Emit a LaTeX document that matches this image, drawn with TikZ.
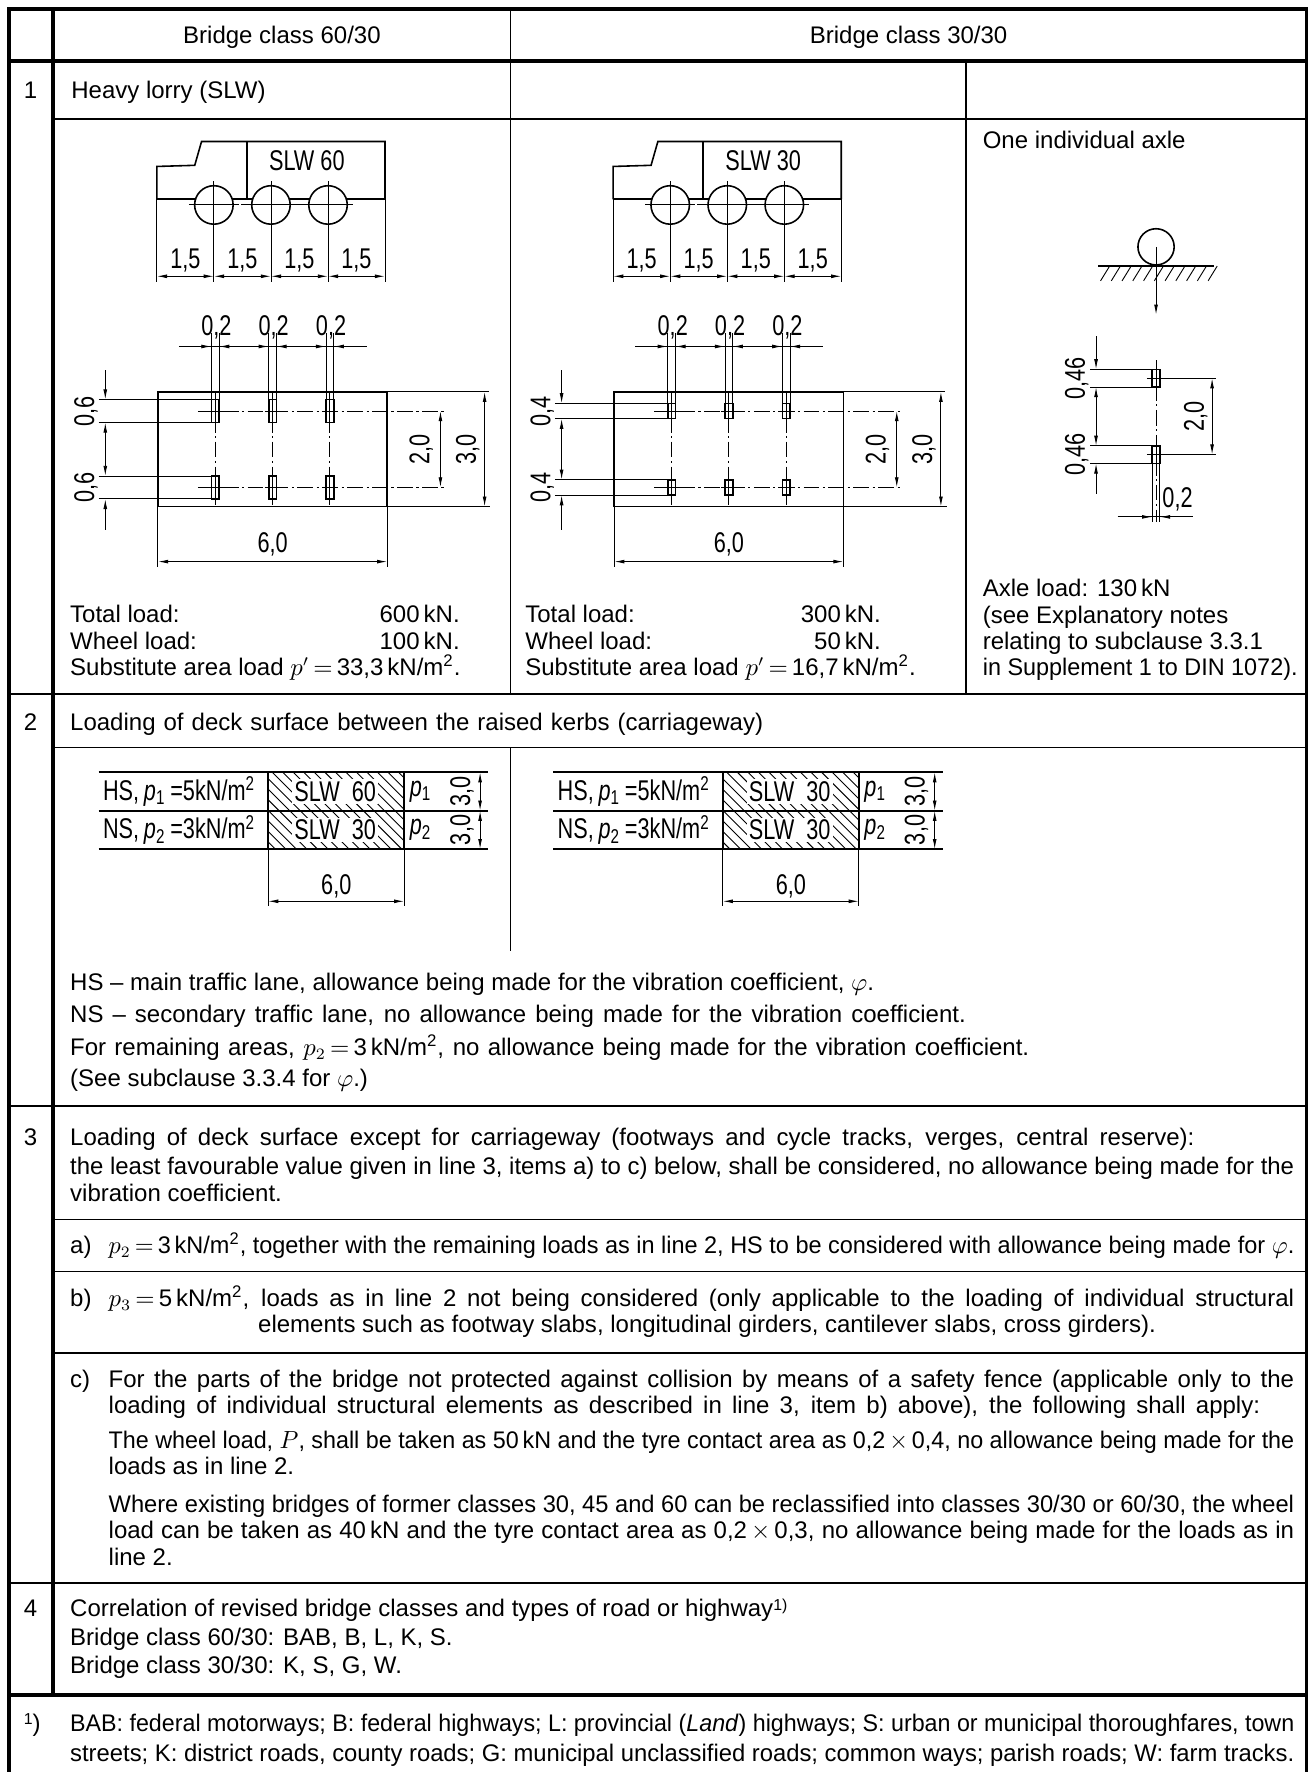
\documentclass[tikz,border=0pt]{standalone}
\usepackage{fontspec}
\setmainfont{Liberation Sans}
\newfontfamily\dimfont[FakeStretch=0.76]{Liberation Sans}
\usepackage{graphicx}
\usetikzlibrary{arrows.meta}
\newcommand\bodyfont{\fontsize{10.6}{12.5}\selectfont}
\newcommand\dimsize{\dimfont\fontsize{12.6}{14}\selectfont}
\newsavebox\jbox
\newcommand\jl[2]{\sbox\jbox{#2}\ifdim\wd\jbox>#1\relax\resizebox{#1}{\height}{\usebox\jbox}\else\hbox to #1{#2}\fi}
\newcommand\kNm{\,kN/m\textsuperscript{2}}
\newcommand\eq{\mkern3mu{=}\mkern3mu}

\newcommand\lorry[2]{%
\begin{scope}[shift={(#1,0)}]
 \draw[med] (138.5,176) -- (138.5,147) -- (172,146) -- (178,125) -- (340,125) -- (340,176);
 \draw[med] (218,125) -- (218,176);
 \draw[med] (138.5,176) -- (340,176);
 \draw[thinl,cline] (169,181) -- (311,181);
 \foreach \w in {188.9,239.3,289.7} {
   \draw[med,fill=white] (\w,181) circle[radius=17];
   \draw[thinl] (\w,160) -- (\w,249);
   \draw[thinl] (\w-22,181) -- (\w+22,181);
 }
 \node[dl] (slw#2) at (271,142) {SLW\ #2};
 \draw[thinl] (138.5,176) -- (138.5,249);
 \draw[thinl] (340,176) -- (340,249);
 \draw[thinl,<->] (138.5,244) -- (188.9,244);
 \draw[thinl,<->] (188.9,244) -- (239.3,244);
 \draw[thinl,<->] (239.3,244) -- (289.7,244);
 \draw[thinl,<->] (289.7,244) -- (340,244);
 \foreach \m in {163.7,214.1,264.5,314.8} \node[dl] at (\m,230) {1,5};
\end{scope}}

\newcommand\planview[3]{%
\begin{scope}[shift={(#1,0)}]
 \draw[med] (139.5,346) rectangle (342,447.5);
 \draw[thinl,cline] (174.7,363) -- (392.5,363);
 \draw[thinl,cline] (174.7,430.5) -- (392.5,430.5);
 \foreach \w in {190.15,240.75,291.35} {
   \draw[thinl] (\w-3.375,294) -- (\w-3.375,363-#2);
   \draw[thinl] (\w+3.375,294) -- (\w+3.375,363-#2);
   \draw[thinl,cline] (\w,346) -- (\w,446);
   \foreach \r in {363,430.5} {
     \draw[med,fill=white] (\w-3.375,\r-#2) rectangle (\w+3.375,\r+#2);
     \draw[thinl] (\w,\r-#2) -- (\w,\r+#2);
     \draw[thinl] (\w-7,\r) -- (\w+7,\r);
   }
   \draw[thinl,->] (\w-3.375-13,306) -- (\w-3.375,306);
   \draw[thinl,->] (\w+3.375+13,306) -- (\w+3.375,306);
   \node[dl] at (\w+1,289) {0,2};
 }
 \draw[thinl] (158,306) -- (324,306);
 % 2,0
 \draw[thinl,<->] (389,363) -- (389,430.5);
 \node[dl,rotate=90] at (372,396.75) {2,0};
 % 3,0
 \draw[thinl] (342,346) -- (432,346);
 \draw[thinl] (342,447.5) -- (433,447.5);
 \draw[thinl,<->] (428,346) -- (428,447.5);
 \node[dl,rotate=90] at (413,396.75) {3,0};
 % left chain
 \foreach \yy in {363-#2,363+#2,430.5-#2,430.5+#2} \draw[thinl] (87,\yy) -- (186.775,\yy);
 \draw[thinl,->] (93,327) -- (93,363-#2);
 \draw[thinl,<->] (93,363+#2) -- (93,430.5-#2);
 \draw[thinl,<-] (93,430.5+#2) -- (93,468);
 \node[dl,rotate=90] at (76,363) {#3};
 \node[dl,rotate=90] at (76,430.5) {#3};
 % 6,0
 \draw[thinl] (139.5,447.5) -- (139.5,501);
 \draw[thinl] (342,447.5) -- (342,501);
 \draw[thinl,<->] (139.5,496) -- (342,496);
 \node[dl] at (240.75,481) {6,0};
\end{scope}}

\newcommand\rowtwo[4]{%
\begin{scope}[shift={(#1,0)}]
 \begin{scope}
  \clip (236.8,682) rectangle (357,750);
  \foreach \k in {0,...,22} \draw[thinl] ({166+\k*9.3},682) -- ++(68,68);
 \end{scope}
 \draw[med] (87,682) -- (431,682);
 \draw[med] (87,716) -- (431,716);
 \draw[med] (87,750) -- (431,750);
 \draw[med] (236.8,682) -- (236.8,750);
 \draw[med] (357,682) -- (357,750);
 \node[dl,anchor=west] at (91,699) {HS,\,\textit{p}\textsubscript{1}\,=5kN/m\textsuperscript{2}};
 \node[dl,anchor=west] at (91,733) {NS,\,\textit{p}\textsubscript{2}\,=3kN/m\textsuperscript{2}};
 \node[dl,fill=white,inner sep=1pt] at (296,699) {SLW\ \ #2};
 \node[dl,fill=white,inner sep=1pt] at (296,733) {SLW\ \ #3};
 \node[dl,anchor=west] at (362,699) {\textit{p}\textsubscript{1}};
 \node[dl,anchor=west] at (362,733) {\textit{p}\textsubscript{2}};
 \node[dl,rotate=90] at (408,699) {3,0};
 \node[dl,rotate=90] at (408,733) {3,0};
 \draw[thinl,<->] (424,682) -- (424,716);
 \draw[thinl,<->] (424,716) -- (424,750);
 \draw[thinl] (236.8,750) -- (236.8,800);
 \draw[thinl] (357,750) -- (357,800);
 \draw[thinl,<->] (236.8,796) -- (357,796);
 \node[dl] at (297,783) {6,0};
\end{scope}}

\begin{document}
\begin{tikzpicture}[x=0.5pt,y=-0.5pt,
  >={Latex[length=4.5pt,width=1.7pt]},
  every node/.style={inner sep=0pt,outer sep=0pt},
  txt/.style={anchor=base west,font=\bodyfont},
  txte/.style={anchor=base east,font=\bodyfont},
  txtc/.style={anchor=base,font=\bodyfont},
  dl/.style={font=\dimsize},
  heavy/.style={line width=1.6pt},
  rowline/.style={line width=1.1pt},
  grid/.style={line width=0.6pt},
  med/.style={line width=0.7pt},
  thinl/.style={line width=0.4pt},
  cline/.style={dash pattern=on 7pt off 1.5pt on 1pt off 1.5pt}]
\useasboundingbox (0,0) rectangle (1157,1565);
\fill[white] (0,0) rectangle (1157,1565);

% ---------- frame ----------
\draw[heavy] (8,1565) -- (8,8) -- (1154,8) -- (1154,1565);
\draw[heavy] (47,8) -- (47,1497);
\draw[heavy] (8,54) -- (1154,54);
\draw[grid] (451,8) -- (451,54);
\draw[grid] (47,105) -- (1154,105);
\draw[grid] (451,54) -- (451,613);
\draw[grid] (853,54) -- (853,613);
\draw[rowline] (8,613) -- (1154,613);
\draw[grid] (47,660) -- (1154,660);
\draw[grid] (451,660) -- (451,840);
\draw[rowline] (8,977) -- (1154,977);
\draw[grid] (47,1077) -- (1154,1077);
\draw[grid] (47,1123) -- (1154,1123);
\draw[grid] (47,1195) -- (1154,1195);
\draw[rowline] (8,1398) -- (1154,1398);
\draw[heavy] (8,1497) -- (1154,1497);

% ---------- header ----------
\node[txtc] (h1) at (249,38) {Bridge class 60/30};
\node[txtc] (h2) at (802.5,38) {Bridge class 30/30};

% ---------- row 1 ----------
\node[txtc] (n1) at (27,87) {1};
\node[txt] (r1t) at (63,87) {Heavy lorry (SLW)};
\node[txt] (axt) at (868,131) {One individual axle};

\lorry{0}{60}
\lorry{403}{30}
\planview{0}{10.125}{0,6}
\planview{403}{6.75}{0,4}

% axle side view
\draw[med] (1021,218) circle[radius=16];
\draw[med] (970,235) -- (1072,235);
\foreach \k in {0,...,10} \draw[thinl] ({980+\k*9.5},235) -- ++(-8,13);
\draw[thinl,->] (1021,218) -- (1021,278);
% axle plan view
\draw[thinl,cline] (1021,318) -- (1021,461);
\foreach \r in {334,401.5} {
  \draw[med,fill=white] (1017.6,\r-7.75) rectangle (1024.4,\r+7.75);
  \draw[thinl] (1021,\r-7.75) -- (1021,\r+7.75);
  \draw[thinl] (1013,\r) -- (1074,\r);
}
\draw[thinl,<->] (1070.5,334) -- (1070.5,401.5);
\node[dl,rotate=90] at (1056,368) {2,0};
\foreach \yy in {326.25,341.75,393.75,409.25} \draw[thinl] (963,\yy) -- (1017.6,\yy);
\draw[thinl,->] (968,297) -- (968,326.25);
\draw[thinl,<->] (968,341.75) -- (968,393.75);
\draw[thinl,<-] (968,409.25) -- (968,436);
\node[dl,rotate=90] at (951,334) {0,46};
\node[dl,rotate=90] at (951,401.5) {0,46};
\draw[thinl] (1017.6,409.25) -- (1017.6,461);
\draw[thinl] (1024.4,409.25) -- (1024.4,461);
\draw[thinl] (987,456.5) -- (1054,456.5);
\draw[thinl,->] (1004,456.5) -- (1017.6,456.5);
\draw[thinl,->] (1038,456.5) -- (1024.4,456.5);
\node[dl] at (1040,441) {0,2};

% row 1 texts
\node[txt] (tl1) at (62,550) {Total load:};
\node[txte] (tv1) at (406,550) {600\,kN.};
\node[txt] (wl1) at (62,574) {Wheel load:};
\node[txte] (wv1) at (406,574) {100\,kN.};
\node[txt] (sa1) at (62,597) {Substitute area load \(p'\eq\)33,3\kNm.};
\node[txt] (tl2) at (464,550) {Total load:};
\node[txte] (tv2) at (778,550) {300\,kN.};
\node[txt] (wl2) at (464,574) {Wheel load:};
\node[txte] (wv2) at (778,574) {50\,kN.};
\node[txt] (sa2) at (464,597) {Substitute area load \(p'\eq\)16,7\kNm.};
\node[txt] (ax1) at (868,527) {Axle load: 130\,kN};
\node[txt] (ax2) at (868,551) {(see Explanatory notes};
\node[txt] (ax3) at (868,574) {relating to subclause 3.3.1};
\node[txt] (ax4) at (868,597) {\jl{139pt}{in Supplement 1 to DIN 1072).}};

% ---------- row 2 ----------
\node[txtc] (n2) at (27,645) {2};
\node[txt] (r2t) at (62,645) {\jl{306pt}{Loading of deck surface between the raised kerbs (carriageway)}};
\rowtwo{0}{60}{30}{}
\rowtwo{401.5}{30}{30}{}
\node[txt] (r2a) at (62,875) {HS -- main traffic lane, allowance being made for the vibration coefficient, \(\varphi\).};
\node[txt] (r2b) at (62,903) {\jl{395.5pt}{NS -- secondary traffic lane, no allowance being made for the vibration coefficient.}};
\node[txt] (r2c) at (62,932) {\jl{423.5pt}{For remaining areas, \(p_2\eq\)3\kNm, no allowance being made for the vibration coefficient.}};
\node[txt] (r2d) at (62,960) {(See subclause 3.3.4 for \(\varphi\).)};

% ---------- row 3 ----------
\node[txtc] (n3) at (27,1012) {3};
\node[txt] (r3a) at (62,1012) {\jl{496.5pt}{Loading of deck surface except for carriageway (footways and cycle tracks, verges, central reserve):}};
\node[txt] (r3b) at (62,1037) {\jl{540.5pt}{the least favourable value given in line 3, items a) to c) below, shall be considered, no allowance being made for the}};
\node[txt] (r3c) at (62,1061) {vibration coefficient.};
\node[txt] (ia) at (62,1107) {a)};
\node[txt] (ia1) at (96,1107) {\jl{523.5pt}{\(p_2\eq\)3\kNm, together with the remaining loads as in line 2, HS to be considered with allowance being made for \(\varphi\).}};
\node[txt] (ib) at (62,1154) {b)};
\node[txt] (ib1) at (96,1154) {\jl{523.5pt}{\(p_3\eq\)5\kNm, loads as in line 2 not being considered (only applicable to the loading of individual structural}};
\node[txt] (ib2) at (228,1177) {elements such as footway slabs, longitudinal girders, cantilever slabs, cross girders).};
\node[txt] (ic) at (62,1225) {c)};
\node[txt] (ic1) at (96,1225) {\jl{523.5pt}{For the parts of the bridge not protected against collision by means of a safety fence (applicable only to the}};
\node[txt] (ic2) at (96,1248) {\jl{508.5pt}{loading of individual structural elements as described in line 3, item b) above), the following shall apply:}};
\node[txt] (ic3) at (96,1279) {\jl{523.5pt}{The wheel load, \(P\), shall be taken as 50\,kN and the tyre contact area as 0,2\,\(\times\)\,0,4, no allowance being made for the}};
\node[txt] (ic4) at (96,1302) {loads as in line 2.};
\node[txt] (ic5) at (96,1336) {\jl{523.5pt}{Where existing bridges of former classes 30, 45 and 60 can be reclassified into classes 30/30 or 60/30, the wheel}};
\node[txt] (ic6) at (96,1359) {\jl{523.5pt}{load can be taken as 40\,kN and the tyre contact area as 0,2\,\(\times\)\,0,3, no allowance being made for the loads as in}};
\node[txt] (ic7) at (96,1383) {line 2.};

% ---------- row 4 ----------
\node[txtc] (n4) at (27,1428) {4};
\node[txt] (r4a) at (62,1428) {Correlation of revised bridge classes and types of road or highway{\fontsize{7}{8}\selectfont\raisebox{3pt}{1)}}};
\node[txt] (r4b) at (62,1453) {Bridge class 60/30: BAB, B, L, K, S.};
\node[txt] (r4c) at (62,1478) {Bridge class 30/30: K, S, G, W.};

% ---------- footnote ----------
\node[txt] (fm) at (21,1529) {{\fontsize{7}{8}\selectfont\raisebox{3pt}{1}})};
\node[txt] (f1) at (62,1529) {\jl{540.5pt}{BAB: federal motorways; B: federal highways; L: provincial (\textit{Land}) highways; S: urban or municipal thoroughfares, town}};
\node[txt] (f2) at (62,1556) {\jl{540.5pt}{streets; K: district roads, county roads; G: municipal unclassified roads; common ways; parish roads; W: farm tracks.}};
\end{tikzpicture}
\end{document}
